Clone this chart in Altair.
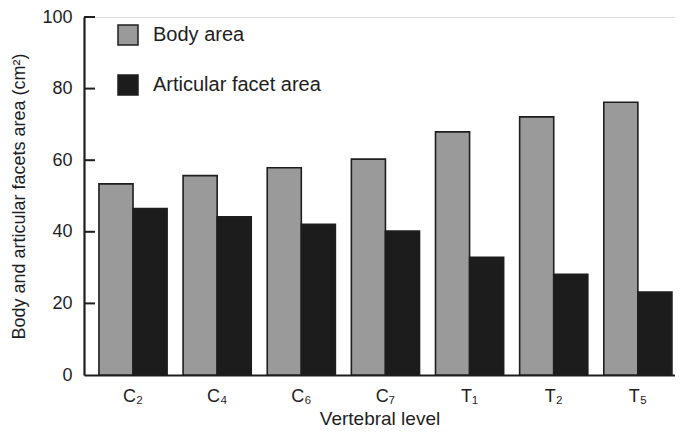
import altair as alt
import pandas as pd

levels = ["C₂", "C₄", "C₆", "C₇", "T₁", "T₂", "T₅"]
body_area = [53.4, 55.7, 57.9, 60.3, 67.9, 72.1, 76.2]
facet_area = [46.5, 44.2, 42.1, 40.2, 32.9, 28.1, 23.2]
series = ["Body area", "Articular facet area"]
y_ticks = [0, 20, 40, 60, 80, 100]

rows = []
for lv, b, f in zip(levels, body_area, facet_area):
    rows.append({"level": lv, "series": series[0], "value": b})
    rows.append({"level": lv, "series": series[1], "value": f})
df = pd.DataFrame(rows)
ticks_df = pd.DataFrame({"t": y_ticks[1:]})

FONT = "Liberation Sans"
INK = "#1e1e1e"

yscale = alt.Scale(domain=[0, 100], nice=False)

bars = alt.Chart(df).mark_bar(strokeWidth=1.6, stroke=INK).encode(
    x=alt.X("level:N", sort=levels,
            scale=alt.Scale(paddingInner=0.19, paddingOuter=0.107, align=0.83),
            axis=alt.Axis(title="Vertebral level", labelAngle=0, ticks=False,
                          labelFontSize=18, titleFontSize=19, labelPadding=12,
                          titlePadding=4, domainWidth=2.2, domainColor=INK,
                          labelColor=INK, titleColor=INK, titleFontWeight="normal",
                          labelFont=FONT, titleFont=FONT)),
    xOffset=alt.XOffset("series:N", sort=series),
    y=alt.Y("value:Q", scale=yscale,
            axis=alt.Axis(title="Body and articular facets area (cm²)",
                          values=y_ticks, ticks=False, grid=False,
                          labelFontSize=18, titleFontSize=18, labelPadding=12,
                          titlePadding=13, domainWidth=2.2, domainColor=INK,
                          labelColor=INK, titleColor=INK, titleFontWeight="normal",
                          labelFont=FONT, titleFont=FONT)),
    color=alt.Color("series:N", sort=series,
                    scale=alt.Scale(domain=series, range=["#9a9a9a", "#1c1c1c"]),
                    legend=alt.Legend(title=None, orient="none", legendX=33, legendY=7,
                                      symbolType="square", symbolSize=400,
                                      symbolStrokeColor=INK, symbolStrokeWidth=1.5,
                                      labelFontSize=20, labelFont=FONT, labelColor=INK,
                                      labelLimit=0, rowPadding=24, labelOffset=14,
                                      padding=0)),
)

tick_marks = alt.Chart(ticks_df).mark_rule(color=INK, strokeWidth=2).encode(
    y=alt.Y("t:Q", scale=yscale),
    x=alt.value(0),
    x2=alt.value(11),
)

chart = alt.layer(bars, tick_marks).properties(
    width=591, height=358,
    autosize=alt.AutoSizeParams(type="none"),
    padding={"left": 76, "top": 9, "right": 0, "bottom": 52},
).configure_view(stroke=None).configure(font=FONT)

chart.save("out.html", embed_options={"renderer": "svg", "actions": False})
